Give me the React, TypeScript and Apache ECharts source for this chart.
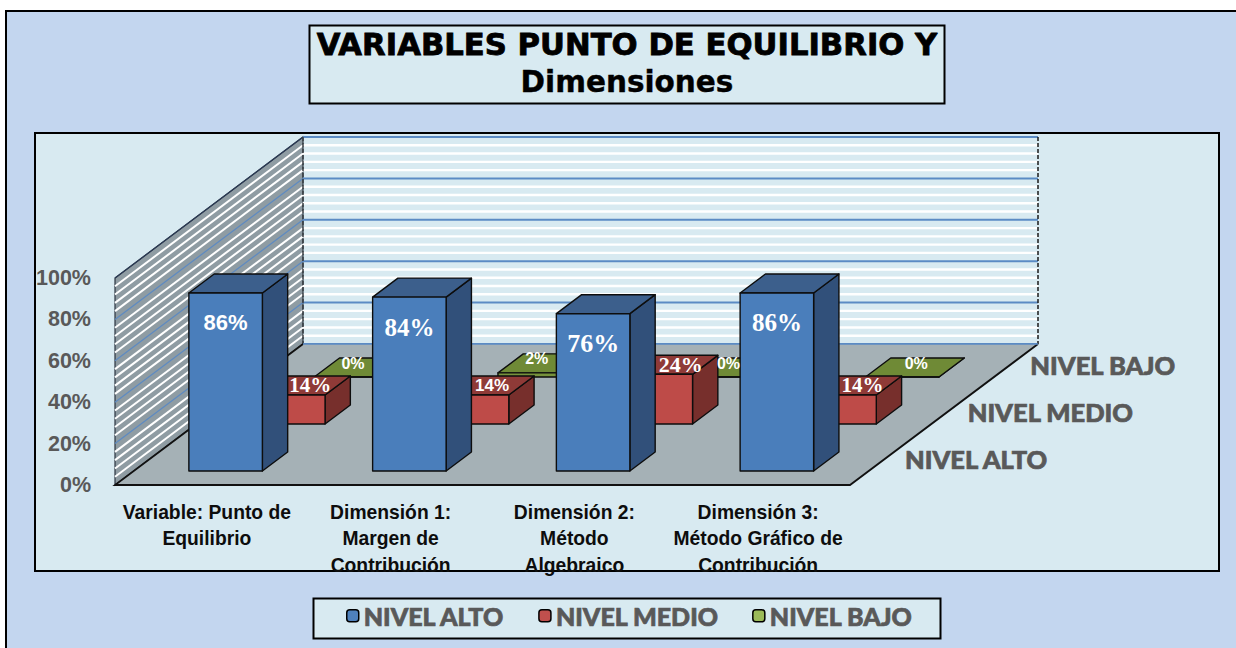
import React, { useEffect, useRef } from "react";
import * as echarts from "echarts";

const categories = [
  "Variable: Punto de\nEquilibrio",
  "Dimensión 1:\nMargen de\nContribución",
  "Dimensión 2:\nMétodo\nAlgebraico",
  "Dimensión 3:\nMétodo Gráfico de\nContribución",
];
const yTicks = [0, 20, 40, 60, 80, 100];
const nivelAlto = [86, 84, 76, 86];
const nivelMedio = [14, 14, 24, 14];
const nivelBajo = [0, 2, 0, 0];
const titleLine1 = "VARIABLES PUNTO DE EQUILIBRIO Y";
const titleLine2 = "Dimensiones";
const depthNames = ["NIVEL ALTO", "NIVEL MEDIO", "NIVEL BAJO"];

const NARROW = '"Liberation Sans", sans-serif';
const SERIF = '"Liberation Serif", serif';
const HEAVY = 'Lato, "DejaVu Sans", sans-serif';
const WIDE = '"DejaVu Sans", sans-serif';

// depth projection of the 3D box, in px
const ROW_DX = 62.67;
const ROW_DY = 47;
const FRONT_DX = 18.75;
const FRONT_DY = 14;
const BAR_DX = 25.3;
const BAR_DY = 19;
const WALL_DX = 188;
const WALL_DY = 141;

const rows = [
  {
    name: depthNames[0],
    values: nivelAlto,
    row: 0,
    front: "#4a7ebb",
    top: "#3c5f8c",
    side: "#31507a",
    legend: "#4f81bd",
    fonts: [NARROW, SERIF, SERIF, SERIF],
    labelSize: [22, 25, 26, 25],
    nudgeX: [0, 0, 0, 0],
    nudgeY: 30,
  },
  {
    name: depthNames[1],
    values: nivelMedio,
    row: 1,
    front: "#be4b48",
    top: "#8f3a37",
    side: "#772f2c",
    legend: "#c0504d",
    fonts: [SERIF, NARROW, SERIF, SERIF],
    labelSize: [21, 17, 22, 21],
    nudgeX: [22, 20, 25, 23],
    nudgeY: -10,
  },
  {
    name: depthNames[2],
    values: nivelBajo,
    row: 2,
    front: "#76923c",
    top: "#6f8a36",
    side: "#5f7a2c",
    legend: "#9bbb59",
    fonts: [NARROW, NARROW, NARROW, NARROW],
    labelSize: [16, 16, 16, 16],
    nudgeX: [2, 2, 10, 14],
    nudgeY: -14,
  },
];

function frameItem(params: any, api: any) {
  const cs = params.coordSys;
  const x0 = cs.x;
  const x1 = cs.x + cs.width;
  const yAt = (v: number) => api.coord([0, v])[1];
  const y0 = yAt(0);
  const y100 = yAt(100);
  const children: any[] = [];
  children.push({
    type: "polygon",
    shape: { points: [[x0, y0], [x0 + WALL_DX, y0 - WALL_DY], [x0 + WALL_DX, y100 - WALL_DY], [x0, y100]] },
    style: { fill: "#8f9ca3", stroke: "#2b3440", lineWidth: 1.2 },
  });
  for (let v = 0; v <= 100; v += 4) {
    const major = v % 20 === 0;
    const y = yAt(v);
    if (!major) {
      children.push({
        type: "line",
        shape: { x1: x0, y1: y, x2: x0 + WALL_DX, y2: y - WALL_DY },
        style: { stroke: "#ffffff", lineWidth: 2 },
      });
      children.push({
        type: "line",
        shape: { x1: x0 + WALL_DX, y1: y - WALL_DY, x2: x1 + WALL_DX, y2: y - WALL_DY },
        style: { stroke: "#ffffff", lineWidth: 2.4 },
      });
    }
  }
  for (let v = 0; v <= 100; v += 20) {
    const y = yAt(v);
    if (v > 0) {
      children.push({
        type: "line",
        shape: { x1: x0, y1: y, x2: x0 + WALL_DX, y2: y - WALL_DY },
        style: { stroke: v === 100 ? "#2b3a55" : "#5d8ac2", lineWidth: 1.2 },
      });
    }
    children.push({
      type: "line",
      shape: { x1: x0 + WALL_DX, y1: y - WALL_DY, x2: x1 + WALL_DX, y2: y - WALL_DY },
      style: { stroke: "#5b8bc4", lineWidth: 2 },
    });
  }
  children.push({
    type: "line",
    shape: { x1: x0 + WALL_DX, y1: y100 - WALL_DY, x2: x0 + WALL_DX, y2: y0 - WALL_DY },
    style: { stroke: "#3a3f44", lineWidth: 1.5, lineDash: [4, 2] },
  });
  children.push({
    type: "line",
    shape: { x1: x1 + WALL_DX, y1: y100 - WALL_DY, x2: x1 + WALL_DX, y2: y0 - WALL_DY },
    style: { stroke: "#1a1a1a", lineWidth: 1.5, lineDash: [4, 2] },
  });
  children.push({
    type: "polygon",
    shape: { points: [[x0, y0], [x1, y0], [x1 + WALL_DX, y0 - WALL_DY], [x0 + WALL_DX, y0 - WALL_DY]] },
    style: { fill: "#a5b1b6" },
  });
  children.push({
    type: "polyline",
    shape: { points: [[x0 + WALL_DX, y0 - WALL_DY], [x0, y0], [x1, y0], [x1 + WALL_DX, y0 - WALL_DY]] },
    style: { fill: "none", stroke: "#111", lineWidth: 1.8 },
  });
  children.push({
    type: "line",
    shape: { x1: x0 + WALL_DX, y1: y0 - WALL_DY, x2: x1 + WALL_DX, y2: y0 - WALL_DY },
    style: { stroke: "#5b8bc4", lineWidth: 1.5 },
  });
  depthNames.forEach((name, i) => {
    children.push({
      type: "text",
      style: {
        text: name,
        x: x1 + 55 + ROW_DX * i,
        y: y0 - 26 - ROW_DY * i,
        fill: "#595959",
        stroke: "#595959",
        lineWidth: 0.7,
        font: `900 25.5px ${HEAVY}`,
        align: "left",
        verticalAlign: "middle",
      },
    });
  });
  return { type: "group", children };
}

function barItem(row: (typeof rows)[number]) {
  return (params: any, api: any) => {
    const i = api.value(0);
    const val = api.value(1);
    const [cx, yTop] = api.coord([i, val]);
    const yBase = api.coord([i, 0])[1];
    const band = api.size([1, 0])[0];
    const w = band * 0.4;
    const sx = FRONT_DX + ROW_DX * row.row;
    const sy = FRONT_DY + ROW_DY * row.row;
    const l = cx - w / 2 + sx;
    const r = cx + w / 2 + sx;
    const b = yBase - sy;
    const t = yTop - sy;
    const edge = { stroke: "#0d0d0d", lineWidth: 1.4, lineJoin: "round" };
    const children: any[] = [
      {
        type: "polygon",
        shape: { points: [[r, b], [r + BAR_DX, b - BAR_DY], [r + BAR_DX, t - BAR_DY], [r, t]] },
        style: { fill: row.side, ...edge },
      },
      {
        type: "polygon",
        shape: { points: [[l, t], [r, t], [r + BAR_DX, t - BAR_DY], [l + BAR_DX, t - BAR_DY]] },
        style: { fill: row.top, ...edge },
      },
      {
        type: "polygon",
        shape: { points: [[l, b], [r, b], [r, t], [l, t]] },
        style: { fill: row.front, ...edge },
      },
      {
        type: "text",
        z2: 100,
        style: {
          text: `${val}%`,
          x: cx + sx + row.nudgeX[i],
          y: t + row.nudgeY,
          fill: "#ffffff",
          font: `bold ${row.labelSize[i]}px ${row.fonts[i]}`,
          align: "center",
          verticalAlign: "middle",
        },
      },
    ];
    return { type: "group", children };
  };
}

export default function App() {
  const ref = useRef<HTMLDivElement>(null);
  useEffect(() => {
    const chart = echarts.init(ref.current!, null, { renderer: "svg" });
    const axisFont = { fontFamily: NARROW, fontWeight: "bold" as const };
    chart.setOption({
      animation: false,
      backgroundColor: "#ffffff",
      title: {
        text: `{a|${titleLine1}}\n{b|${titleLine2}}`,
        left: 627,
        top: 26,
        textAlign: "center",
        padding: 0,
        textStyle: {
          rich: {
            a: {
              fontFamily: WIDE,
              fontWeight: "bold",
              fontSize: 30.7,
              lineHeight: 37,
              color: "#000",
              textBorderColor: "#000",
              textBorderWidth: 0.8,
            },
            b: {
              fontFamily: WIDE,
              fontWeight: "bold",
              fontSize: 29.5,
              lineHeight: 37,
              color: "#000",
              textBorderColor: "#000",
              textBorderWidth: 0.4,
            },
          },
        },
      },
      graphic: [
        {
          type: "group",
          z: -1,
          children: [
            {
              type: "rect",
              shape: { x: 6, y: 11, width: 1240, height: 650 },
              style: { fill: "#c3d6ef", stroke: "#000", lineWidth: 2 },
            },
            {
              type: "rect",
              shape: { x: 35, y: 133, width: 1184, height: 438 },
              style: { fill: "#d8eaf1", stroke: "#000", lineWidth: 2 },
            },
            {
              type: "rect",
              shape: { x: 309.5, y: 25.5, width: 635, height: 78 },
              style: { fill: "#d8eaf1", stroke: "#000", lineWidth: 2 },
            },
            {
              type: "rect",
              shape: { x: 313.5, y: 598.5, width: 627, height: 40 },
              style: { fill: "#d8eaf1", stroke: "#000", lineWidth: 2 },
            },
          ],
        },
      ],
      legend: {
        left: 346,
        top: 603,
        padding: 0,
        itemWidth: 12,
        itemHeight: 12,
        itemGap: 33,
        data: depthNames,
        textStyle: {
          fontFamily: HEAVY,
          fontWeight: 900,
          fontSize: 25,
          color: "#595959",
          textBorderColor: "#595959",
          textBorderWidth: 0.7,
        },
        itemStyle: { borderColor: "#000", borderWidth: 1.5 },
      },
      grid: { left: 115, top: 278, width: 735, height: 207 },
      xAxis: {
        type: "category",
        data: categories,
        axisLine: { show: false },
        axisTick: { show: false },
        axisLabel: {
          interval: 0,
          margin: 14,
          color: "#0d0d0d",
          fontSize: 19.3,
          lineHeight: 26.5,
          ...axisFont,
        },
      },
      yAxis: {
        type: "value",
        min: yTicks[0],
        max: yTicks[yTicks.length - 1],
        interval: 20,
        axisLine: { show: false },
        axisTick: { show: false },
        splitLine: { show: false },
        axisLabel: {
          margin: 24,
          color: "#595959",
          fontSize: 21.5,
          formatter: "{value}%",
          ...axisFont,
        },
      },
      series: [
        {
          type: "custom",
          name: "frame",
          data: [[0, 0]],
          encode: { x: 0, y: 1 },
          renderItem: frameItem,
          silent: true,
        },
        ...[...rows].reverse().map((row) => ({
          type: "custom",
          name: row.name,
          itemStyle: { color: row.legend },
          encode: { x: 0, y: 1 },
          data: row.values.map((v, i) => [i, v]),
          renderItem: barItem(row),
        })),
      ],
    });
    return () => chart.dispose();
  }, []);
  return (
    <div
      ref={ref}
      style={{ position: "fixed", left: 0, top: 0, width: 1236, height: 648 }}
    />
  );
}
